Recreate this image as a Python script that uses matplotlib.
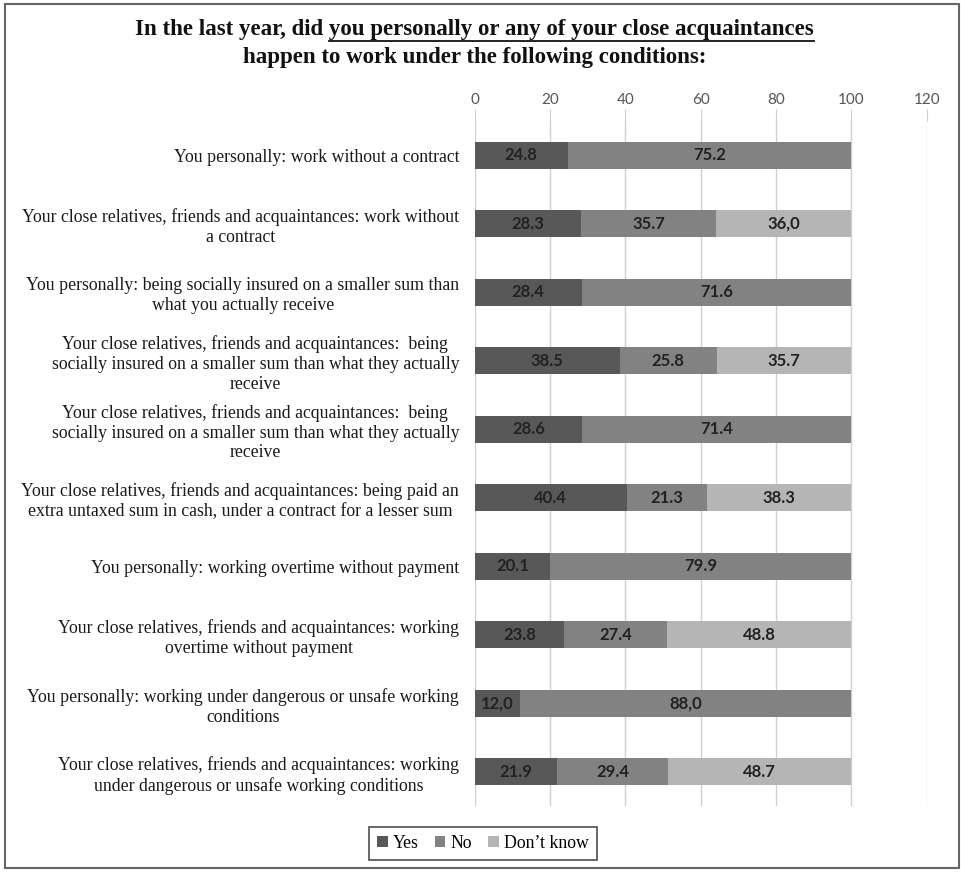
import matplotlib
matplotlib.use("Agg")
import matplotlib.pyplot as plt
from matplotlib.patches import Rectangle
from matplotlib.lines import Line2D
import numpy as np

categories = [
    "You personally: work without a contract",
    "Your close relatives, friends and acquaintances: work without\na contract",
    "You personally: being socially insured on a smaller sum than\nwhat you actually receive",
    "Your close relatives, friends and acquaintances:  being\nsocially insured on a smaller sum than what they actually\nreceive",
    "Your close relatives, friends and acquaintances:  being\nsocially insured on a smaller sum than what they actually\nreceive",
    "Your close relatives, friends and acquaintances: being paid an\nextra untaxed sum in cash, under a contract for a lesser sum",
    "You personally: working overtime without payment",
    "Your close relatives, friends and acquaintances: working\novertime without payment",
    "You personally: working under dangerous or unsafe working\nconditions",
    "Your close relatives, friends and acquaintances: working\nunder dangerous or unsafe working conditions",
]
yes = [24.8, 28.3, 28.4, 38.5, 28.6, 40.4, 20.1, 23.8, 12.0, 21.9]
no = [75.2, 35.7, 71.6, 25.8, 71.4, 21.3, 79.9, 27.4, 88.0, 29.4]
dont_know = [0, 36.0, 0, 35.7, 0, 38.3, 0, 48.8, 0, 48.7]
yes_labels = ["24.8", "28.3", "28.4", "38.5", "28.6", "40.4", "20.1", "23.8", "12,0", "21.9"]
no_labels = ["75.2", "35.7", "71.6", "25.8", "71.4", "21.3", "79.9", "27.4", "88,0", "29.4"]
dk_labels = ["", "36,0", "", "35.7", "", "38.3", "", "48.8", "", "48.7"]
series_names = ["Yes", "No", "Don\u2019t know"]
colors = ["#585858", "#828282", "#b5b5b5"]
xticks = [0, 20, 40, 60, 80, 100, 120]

serif = ["Liberation Serif", "DejaVu Serif"]
sans = ["Lato", "DejaVu Sans"]

fig = plt.figure(figsize=(9.61, 8.73), dpi=100)
ax = fig.add_axes([474.5 / 961, 1 - 806 / 873, 452.2 / 961, 685 / 873])

y = np.arange(len(categories))
h = 0.39
left = np.zeros(len(categories))
for vals, labs, col, name in zip([yes, no, dont_know],
                                 [yes_labels, no_labels, dk_labels],
                                 colors, series_names):
    vals = np.array(vals)
    bars = ax.barh(y, vals, left=left, height=h, color=col, label=name, zorder=3)
    for b, v, lab in zip(bars, vals, labs):
        if v > 0:
            ax.text(b.get_x() + b.get_width() / 2, b.get_y() + h / 2, lab,
                    ha="center", va="center", fontsize=12, fontweight="bold",
                    color="#222222", family=sans, zorder=4)
    left += vals

ax.set_xlim(0, 120)
ax.set_ylim(len(categories) - 0.5, -0.5)
ax.set_xticks(xticks)
ax.xaxis.tick_top()
ax.tick_params(axis="x", length=9, color="#d0d0d0", labelsize=11,
               labelcolor="#555555", pad=1)
for t in ax.get_xticklabels():
    t.set_family(sans)
ax.grid(axis="x", color="#d0d0d0", linewidth=1, zorder=0)
ax.set_yticks(y)
ax.set_yticklabels(categories, family=serif, fontsize=12.8, color="#1a1a1a",
                   multialignment="center", linespacing=1.22)
ax.tick_params(axis="y", length=0, pad=11)
for s in ax.spines.values():
    s.set_visible(False)

# title with underlined middle part
line1_pre = "In the last year, did "
line1_ul = "you personally or any of your close acquaintances"
line2 = "happen to work under the following conditions:"
tkw = dict(family=serif, fontsize=16.5, fontweight="bold", color="#111111")
t1 = fig.text(0.494, 1 - 29 / 873, line1_pre + line1_ul, ha="center", va="center", **tkw)
fig.text(0.494, 1 - 58 / 873, line2, ha="center", va="center", **tkw)
fig.canvas.draw()
r = fig.canvas.get_renderer()
bb_full = t1.get_window_extent(r)
tmp = fig.text(0, 0, line1_pre, **tkw)
w_pre = tmp.get_window_extent(r).width
tmp.remove()
x0 = (bb_full.x0 + w_pre) / fig.bbox.width
x1 = bb_full.x1 / fig.bbox.width
yu = (bb_full.y0 - 1) / fig.bbox.height
fig.add_artist(Line2D([x0, x1], [yu, yu], color="#111111", linewidth=1.3))

leg = fig.legend(loc="center", bbox_to_anchor=(483 / 961, 1 - 843 / 873), ncol=3,
                 frameon=True, fancybox=False, edgecolor="#222222",
                 prop={"family": serif, "size": 12.8}, handlelength=0.6,
                 handleheight=0.6, handletextpad=0.3, columnspacing=0.9,
                 borderpad=0.45)
leg.get_frame().set_linewidth(1.2)

fig.add_artist(Rectangle((5 / 961, 1 - 868 / 873), 954 / 961, 864 / 873,
                         transform=fig.transFigure, fill=False,
                         edgecolor="#666666", linewidth=1.5))

fig.savefig("out.png", dpi=100)
